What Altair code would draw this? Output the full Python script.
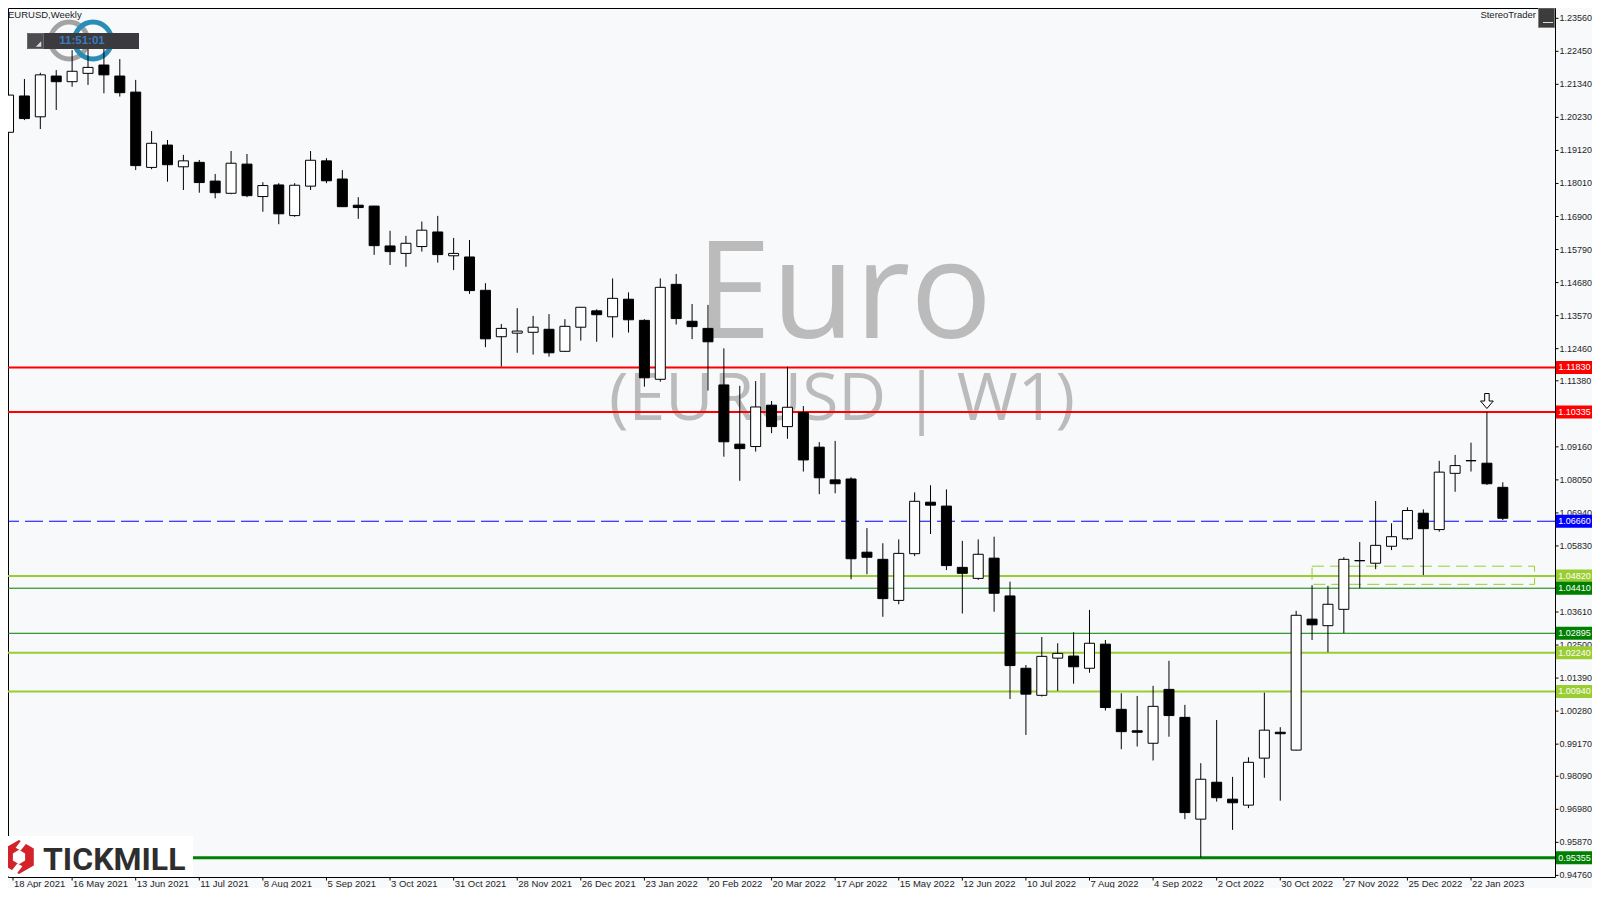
import altair as alt
import pandas as pd

# ---------------- data ----------------
week_labels = ["18 Apr 2021", "16 May 2021", "13 Jun 2021", "11 Jul 2021", "8 Aug 2021",
               "5 Sep 2021", "3 Oct 2021", "31 Oct 2021", "28 Nov 2021", "26 Dec 2021",
               "23 Jan 2022", "20 Feb 2022", "20 Mar 2022", "17 Apr 2022", "15 May 2022",
               "12 Jun 2022", "10 Jul 2022", "7 Aug 2022", "4 Sep 2022", "2 Oct 2022",
               "30 Oct 2022", "27 Nov 2022", "25 Dec 2022", "22 Jan 2023"]

opens = [1.1973, 1.2095, 1.2025, 1.2162, 1.2143, 1.2171, 1.2199, 1.2162, 1.2108, 1.1855,
         1.1930, 1.1857, 1.1872, 1.1809, 1.1768, 1.1866, 1.1757, 1.1796, 1.1693, 1.1792,
         1.1877, 1.1816, 1.1728, 1.1725, 1.1591, 1.1566, 1.1589, 1.1638, 1.1558, 1.1554,
         1.1442, 1.1286, 1.1298, 1.1301, 1.1311, 1.1237, 1.1318, 1.1373, 1.1353, 1.1412,
         1.1341, 1.1143, 1.1462, 1.1338, 1.1314, 1.1124, 1.0925, 1.0917, 1.1056, 1.0984,
         1.1031, 1.0915, 1.0805, 1.0808, 1.0562, 1.0538, 1.0400, 1.0557, 1.0730, 1.0717,
         1.0511, 1.0474, 1.0542, 1.0415, 1.0172, 1.0081, 1.0206, 1.0213, 1.0172, 1.0253,
         1.0034, 0.9962, 0.9920, 1.0101, 1.0007, 0.9665, 0.9789, 0.9732, 0.9712, 0.9870,
         0.9957, 0.9897, 1.0337, 1.0315, 1.0370, 1.0533, 1.0525, 1.0582, 1.0607, 1.0693,
         1.0638, 1.0827, 1.0870, 1.0861, 1.0780]
highs = [1.2105, 1.2152, 1.2173, 1.2182, 1.2249, 1.2256, 1.2256, 1.2219, 1.2149, 1.1977,
         1.1947, 1.1897, 1.1880, 1.1833, 1.1910, 1.1900, 1.1805, 1.1802, 1.1802, 1.1910,
         1.1886, 1.1846, 1.1755, 1.1726, 1.1642, 1.1625, 1.1673, 1.1692, 1.1618, 1.1611,
         1.1466, 1.1329, 1.1382, 1.1356, 1.1362, 1.1345, 1.1386, 1.1378, 1.1482, 1.1435,
         1.1345, 1.1482, 1.1497, 1.1396, 1.1393, 1.1247, 1.1121, 1.1137, 1.1070, 1.1185,
         1.1053, 1.0932, 1.0936, 1.0814, 1.0643, 1.0592, 1.0605, 1.0763, 1.0787, 1.0773,
         1.0600, 1.0605, 1.0614, 1.0463, 1.0183, 1.0277, 1.0256, 1.0293, 1.0368, 1.0267,
         1.0088, 1.0079, 1.0113, 1.0197, 1.0049, 0.9853, 0.9998, 0.9807, 0.9873, 1.0090,
         0.9974, 1.0365, 1.0451, 1.0449, 1.0545, 1.0596, 1.0734, 1.0659, 1.0713, 1.0706,
         1.0869, 1.0889, 1.0930, 1.1033, 1.0797]
lows = [1.1941, 1.2014, 1.1984, 1.2048, 1.2126, 1.2132, 1.2104, 1.2093, 1.1846, 1.1849,
        1.1807, 1.1779, 1.1770, 1.1751, 1.1765, 1.1755, 1.1706, 1.1664, 1.1689, 1.1779,
        1.1802, 1.1722, 1.1682, 1.1561, 1.1527, 1.1521, 1.1572, 1.1535, 1.1510, 1.1430,
        1.1251, 1.1186, 1.1232, 1.1226, 1.1219, 1.1235, 1.1273, 1.1269, 1.1283, 1.1300,
        1.1118, 1.1135, 1.1327, 1.1278, 1.1105, 1.0883, 1.0802, 1.0900, 1.0962, 1.0943,
        1.0833, 1.0757, 1.0760, 1.0471, 1.0488, 1.0345, 1.0387, 1.0549, 1.0623, 1.0502,
        1.0356, 1.0469, 1.0362, 1.0069, 0.9948, 1.0077, 1.0096, 1.0120, 1.0157, 1.0030,
        0.9900, 0.9909, 0.9862, 0.9942, 0.9665, 0.9536, 0.9724, 0.9629, 0.9702, 0.9804,
        0.9727, 0.9896, 1.0267, 1.0226, 1.0290, 1.0441, 1.0505, 1.0569, 1.0603, 1.0485,
        1.0631, 1.0765, 1.0833, 1.0788, 1.0670]
closes = [1.2098, 1.2019, 1.2166, 1.2143, 1.2178, 1.2191, 1.2166, 1.2106, 1.1861, 1.1936,
          1.1864, 1.1877, 1.1804, 1.1770, 1.1869, 1.1760, 1.1794, 1.1699, 1.1795, 1.1879,
          1.1810, 1.1723, 1.1720, 1.1592, 1.1572, 1.1600, 1.1644, 1.1562, 1.1566, 1.1441,
          1.1279, 1.1314, 1.1305, 1.1318, 1.1232, 1.1321, 1.1385, 1.1360, 1.1415, 1.1343,
          1.1148, 1.1452, 1.1347, 1.1320, 1.1269, 1.0933, 1.0910, 1.1050, 1.0984, 1.1049,
          1.0872, 1.0812, 1.0792, 1.0540, 1.0545, 1.0406, 1.0558, 1.0733, 1.0720, 1.0517,
          1.0491, 1.0555, 1.0424, 1.0181, 1.0085, 1.0212, 1.0222, 1.0177, 1.0256, 1.0040,
          0.9959, 0.9957, 1.0044, 1.0013, 0.9687, 0.9799, 0.9737, 0.9720, 0.9856, 0.9964,
          0.9952, 1.0350, 1.0318, 1.0387, 1.0538, 1.0534, 1.0585, 1.0614, 1.0702, 1.0641,
          1.0831, 1.0853, 1.0869, 1.0792, 1.0676]

price_ticks = [1.23560, 1.22450, 1.21340, 1.20230, 1.19120, 1.18010, 1.16900, 1.15790,
               1.14680, 1.13570, 1.12460, 1.11380, 1.10270, 1.09160, 1.08050, 1.06940,
               1.05830, 1.04720, 1.03610, 1.02500, 1.01390, 1.00280, 0.99170, 0.98090,
               0.96980, 0.95870, 0.94760]

level_values = [1.11830, 1.10335, 1.06660, 1.04820, 1.04410, 1.02895, 1.02240, 1.00940, 0.95355]
level_kinds = ["red", "red", "blue", "lime", "green", "green", "lime", "lime", "green_thick"]

zone_start, zone_end = 82, 96          # candle index range of the dashed zone
zone_top, zone_bottom = 1.0515, 1.0454  # price bounds of the dashed zone
marked_candle = 93                     # candle with the down arrow

# ---------------- styles ----------------
BG = "#F8F9FB"
W, H = 1547, 869
X_DOMAIN = [0.28125, 96.96875]
Y_DOMAIN = [0.947058, 1.239061]
FONT = "Liberation Sans"
KIND_STYLE = {
    "red": dict(color="#FF0000", width=2, dash=None),
    "blue": dict(color="#0000FF", width=1, dash=[18, 6]),
    "lime": dict(color="#9ACD32", width=2, dash=None),
    "green": dict(color="#008000", width=1, dash=None),
    "green_thick": dict(color="#008000", width=3, dash=None),
}

xscale = alt.Scale(domain=X_DOMAIN, nice=False, zero=False)
yscale = alt.Scale(domain=Y_DOMAIN, nice=False, zero=False)


def X(field):
    return alt.X(field, scale=xscale, axis=None)


def Y(field):
    return alt.Y(field, scale=yscale, axis=None)


df = pd.DataFrame({"i": list(range(len(opens))), "open": opens, "high": highs,
                   "low": lows, "close": closes})
df["dir"] = ["up" if c >= o else "down" for o, c in zip(opens, closes)]

one = pd.DataFrame({"a": [0]})

layers = []

# watermark
layers.append(alt.Chart(pd.DataFrame({"t": ["Euro"]})).mark_text(
    font="Open Sans", fontSize=136, color="#BBBBBB", align="center", baseline="alphabetic"
).encode(text="t:N", x=alt.value(836), y=alt.value(330)))
layers.append(alt.Chart(pd.DataFrame({"t": ["(EURUSD | W1)"]})).mark_text(
    font="Open Sans", fontSize=66, color="#BBBBBB", align="center", baseline="alphabetic"
).encode(text="t:N", x=alt.value(834), y=alt.value(412)))

# axis: price ticks on the right
ticks_df = pd.DataFrame({"price": price_ticks, "txt": [f"{p:.5f}" for p in price_ticks]})
layers.append(alt.Chart(ticks_df).mark_rule(color="black", strokeWidth=1).encode(
    y=Y("price:Q"), x=alt.value(W), x2=alt.value(W + 3.5)))
layers.append(alt.Chart(ticks_df).mark_text(font=FONT, fontSize=9, color="#1E1E1E",
                                            align="left", baseline="middle").encode(
    y=Y("price:Q"), x=alt.value(W + 4.5), text="txt:N"))

# axis: week labels at the bottom
wk = pd.DataFrame({"i": list(range(0, 4 * len(week_labels), 4)), "txt": week_labels})
layers.append(alt.Chart(wk).transform_calculate(ix=f"max(datum.i, {X_DOMAIN[0]})")
              .mark_rule(color="black", strokeWidth=1).encode(
    x=X("ix:Q"), y=alt.value(H), y2=alt.value(H + 3.5)))
layers.append(alt.Chart(wk).transform_calculate(ix=f"max(datum.i, {X_DOMAIN[0]})")
              .mark_text(font=FONT, fontSize=9.5, color="#1E1E1E", align="left",
                         baseline="alphabetic", dx=1).encode(
    x=X("ix:Q"), y=alt.value(H + 9.5), text="txt:N"))

# logo rings (top-left)
layers.append(alt.Chart(one).mark_point(shape="circle", size=1369, filled=False,
                                        stroke="#A3A3A3", strokeWidth=5, opacity=1)
              .encode(x=alt.value(61), y=alt.value(32.5)))
layers.append(alt.Chart(one).mark_point(shape="circle", size=1369, filled=False,
                                        stroke="#2A8DB8", strokeWidth=5, opacity=1)
              .encode(x=alt.value(85), y=alt.value(32.5)))

# horizontal levels
for v, k in zip(level_values, level_kinds):
    st = KIND_STYLE[k]
    kw = dict(color=st["color"], strokeWidth=st["width"])
    if st["dash"]:
        kw["strokeDash"] = st["dash"]
    layers.append(alt.Chart(pd.DataFrame({"price": [v]})).mark_rule(**kw).encode(
        y=Y("price:Q")))

# dashed zone
layers.append(alt.Chart(pd.DataFrame({"i0": [zone_start], "i1": [zone_end],
                                      "p0": [zone_bottom], "p1": [zone_top]}))
              .mark_rect(fillOpacity=0, stroke="#9ACD32", strokeWidth=1,
                         strokeDash=[12, 6])
              .encode(x=X("i0:Q"), x2="i1:Q", y=Y("p0:Q"), y2="p1:Q"))

# candles
layers.append(alt.Chart(df).mark_rule(color="black", strokeWidth=1, clip=True).encode(
    x=X("i:Q"), y=Y("low:Q"), y2="high:Q"))
layers.append(alt.Chart(df).mark_bar(size=10, stroke="black", strokeWidth=1, clip=True,
                                     opacity=1).encode(
    x=X("i:Q"), y=Y("open:Q"), y2="close:Q",
    fill=alt.Fill("dir:N", scale=alt.Scale(domain=["up", "down"], range=["white", "black"]),
                  legend=None)))

# arrow above the marked candle
ARROW = "M-0.3,-1L0.3,-1L0.3,0L0.85,0L0,1L-0.85,0L-0.3,0Z"
layers.append(alt.Chart(df).transform_filter(f"datum.i == {marked_candle}").mark_point(
    shape=ARROW, size=225, filled=True, fill="white", stroke="black", strokeWidth=1,
    opacity=1, yOffset=-11).encode(x=X("i:Q"), y=Y("high:Q")))

# price labels of levels on the right
lab = pd.DataFrame({"price": level_values, "txt": [f"{v:.5f}" for v in level_values],
                    "col": [KIND_STYLE[k]["color"] for k in level_kinds]})
layers.append(alt.Chart(lab).mark_tick(orient="horizontal", size=37, thickness=13,
                                       opacity=1).encode(
    y=Y("price:Q"), x=alt.value(W + 19.5), color=alt.Color("col:N", scale=None)))
layers.append(alt.Chart(lab).mark_text(font=FONT, fontSize=9, color="white",
                                       align="center", baseline="middle").encode(
    y=Y("price:Q"), x=alt.value(W + 19.5), text="txt:N"))

# header text, clock, StereoTrader
layers.append(alt.Chart(pd.DataFrame({"t": ["EURUSD,Weekly"]})).mark_text(
    font=FONT, fontSize=9.5, color="#222222", align="left", baseline="alphabetic"
).encode(text="t:N", x=alt.value(0), y=alt.value(9.5)))
layers.append(alt.Chart(one).mark_rect(fill="#3A3A3F").encode(
    x=alt.value(19), x2=alt.value(131), y=alt.value(25), y2=alt.value(41)))
layers.append(alt.Chart(one).mark_rect(fill="#4B4B50", stroke="#6A6A6A", strokeWidth=1).encode(
    x=alt.value(19.5), x2=alt.value(35.5), y=alt.value(25.5), y2=alt.value(40.5)))
layers.append(alt.Chart(one).mark_point(shape="M1,-1L1,1L-1,1Z", size=30, filled=True,
                                        fill="#DDDDDD", opacity=1).encode(
    x=alt.value(30.5), y=alt.value(36)))
layers.append(alt.Chart(pd.DataFrame({"t": ["11:51:01"]})).mark_text(
    font=FONT, fontSize=11.5, fontWeight="bold", color="#3D7BBF", align="center",
    baseline="middle").encode(text="t:N", x=alt.value(74), y=alt.value(33)))
layers.append(alt.Chart(pd.DataFrame({"t": ["StereoTrader"]})).mark_text(
    font=FONT, fontSize=9.5, color="#222222", align="right", baseline="alphabetic"
).encode(text="t:N", x=alt.value(1528), y=alt.value(9.5)))
layers.append(alt.Chart(one).mark_rect(fill="#3C3C3C", stroke="#808080", strokeWidth=1).encode(
    x=alt.value(1530.5), x2=alt.value(1546.5), y=alt.value(0), y2=alt.value(19.5)))
layers.append(alt.Chart(one).mark_rule(color="#DDDDDD", strokeWidth=1).encode(
    x=alt.value(1535), x2=alt.value(1545), y=alt.value(14.5)))

# Tickmill logo block
layers.append(alt.Chart(one).mark_rect(fill="white").encode(
    x=alt.value(0), x2=alt.value(185), y=alt.value(828), y2=alt.value(H - 0.5)))
HEX = ("M0,-1L0.87,-0.5L0.87,0.5L0,1L-0.87,0.5L-0.87,-0.5Z"
       "M0,-0.42L-0.36,-0.21L-0.36,0.21L0,0.42L0.36,0.21L0.36,-0.21Z")
layers.append(alt.Chart(one).mark_point(shape=HEX, size=1156, filled=True, fill="#D3222A",
                                        strokeWidth=0, opacity=1).encode(
    x=alt.value(11), y=alt.value(849)))
CUTS = "M0.15,-1L0.45,-0.83L0.1,-0.38L-0.2,-0.55Z M-0.15,1L-0.45,0.83L-0.1,0.38L0.2,0.55Z"
layers.append(alt.Chart(one).mark_point(shape=CUTS, size=1156, filled=True, fill="white",
                                        strokeWidth=0, opacity=1).encode(
    x=alt.value(11), y=alt.value(849)))
layers.append(alt.Chart(pd.DataFrame({"t": ["TICKMILL"]})).mark_text(
    font="Roboto", fontSize=32, fontWeight="bold", color="#2E2E2E", align="left",
    baseline="alphabetic").encode(text="t:N", x=alt.value(35), y=alt.value(862)))

chart = alt.layer(*layers).properties(
    width=W, height=H, background=BG,
    padding={"left": 0, "top": 0, "right": 37, "bottom": 11},
    autosize=alt.AutoSizeParams(type="none"),
).configure_view(stroke="#000000", strokeWidth=1, fill=BG)

chart.save("out.html", embed_options={"renderer": "svg", "actions": False})
